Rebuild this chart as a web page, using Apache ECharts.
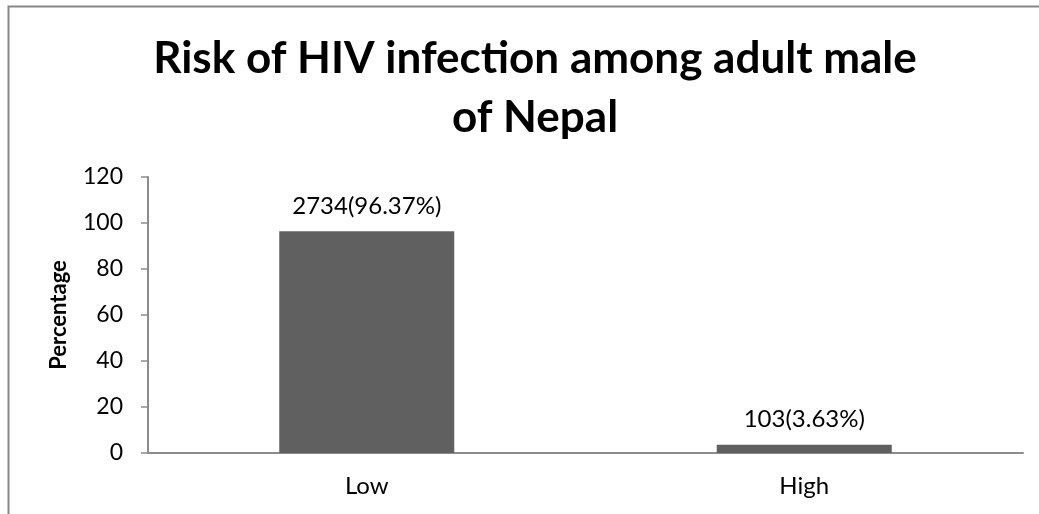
<!DOCTYPE html>
<html><head><meta charset="utf-8">
<script src="https://cdn.jsdelivr.net/npm/echarts@6/dist/echarts.min.js"></script>
<style>html,body{margin:0;padding:0;background:#fff}#c{width:1039px;height:514px}</style>
</head><body><div id="c"></div>
<script>
const categories = ['Low', 'High'];
const percentages = [96.37, 3.63];
const counts = [2734, 103];
const yTicks = [0, 20, 40, 60, 80, 100, 120];

const chart = echarts.init(document.getElementById('c'), null, {renderer: 'canvas'});
const font = 'Lato, "Open Sans", sans-serif';
chart.setOption({
  animation: false,
  backgroundColor: '#fff',
  title: {
    text: 'Risk of HIV infection among adult male\nof Nepal',
    left: 530, top: 24, textAlign: 'center',
    textStyle: {fontFamily: font, fontWeight: 'bold', fontSize: 44, lineHeight: 59, color: '#000'}
  },
  graphic: [{
    type: 'rect', shape: {x: 8.5, y: 6.5, width: 1100, height: 600},
    style: {fill: 'none', stroke: '#878787', lineWidth: 2}, silent: true
  }],
  grid: {left: 148, right: 16, top: 177, bottom: 61},
  xAxis: {
    type: 'category', data: categories,
    axisLine: {lineStyle: {color: '#8c8c8c', width: 2}},
    axisTick: {show: false},
    axisLabel: {fontFamily: font, fontSize: 24, color: '#000', margin: 21}
  },
  yAxis: {
    type: 'value', min: yTicks[0], max: yTicks[yTicks.length - 1], interval: 20,
    name: 'Percentage', nameLocation: 'middle', nameGap: 78, nameRotate: 90,
    nameTextStyle: {fontFamily: font, fontWeight: 'bold', fontSize: 22, color: '#000'},
    axisLine: {show: true, lineStyle: {color: '#8c8c8c', width: 2}},
    axisTick: {show: true, length: 7, lineStyle: {color: '#8c8c8c', width: 1.5}},
    splitLine: {show: false},
    axisLabel: {fontFamily: font, fontSize: 23, color: '#000', margin: 25}
  },
  series: [{
    type: 'bar', barWidth: '40%',
    data: percentages.map((v, i) => ({value: v, count: counts[i]})),
    itemStyle: {color: '#606060'},
    label: {
      show: true, position: 'top', distance: 13,
      fontFamily: font, fontSize: 24, color: '#000',
      formatter: p => p.data.count + '(' + p.value.toFixed(2) + '%)'
    }
  }]
});
</script></body></html>
